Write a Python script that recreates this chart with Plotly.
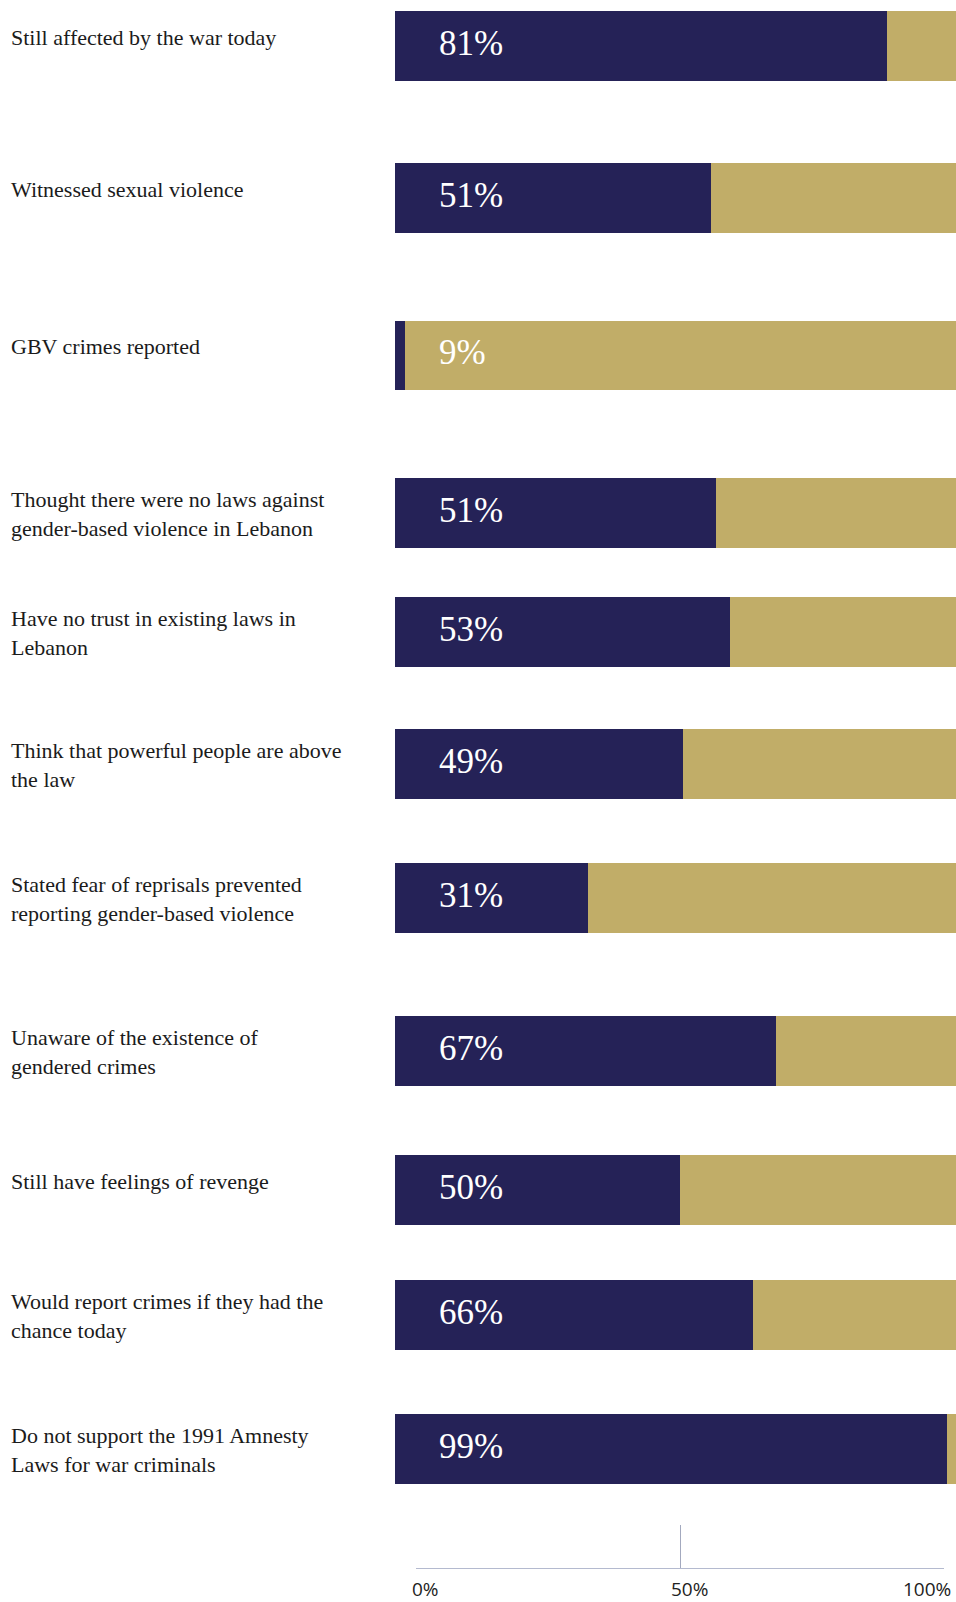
import plotly.graph_objects as go

# ---------------- data ----------------
categories = [
    "Still affected by the war today",
    "Witnessed sexual violence",
    "GBV crimes reported",
    "Thought there were no laws against<br>gender-based violence in Lebanon",
    "Have no trust in existing laws in<br>Lebanon",
    "Think that powerful people are above<br>the law",
    "Stated fear of reprisals prevented<br>reporting gender-based violence",
    "Unaware of the existence of<br>gendered crimes",
    "Still have feelings of revenge",
    "Would report crimes if they had the<br>chance today",
    "Do not support the 1991 Amnesty<br>Laws for war criminals",
]
pct_labels = ["81%", "51%", "9%", "51%", "53%", "49%", "31%", "67%", "50%", "66%", "99%"]
# navy share of each bar as drawn in the picture
navy_share = [87.7, 56.3, 1.7, 57.2, 59.7, 51.4, 34.4, 68.0, 50.8, 63.8, 98.4]
gold_share = [100 - v for v in navy_share]
axis_ticks = [0, 50, 100]
axis_tick_labels = ["0%", "50%", "100%"]

# ---------------- layout constants (page pixels) ----------------
W, H = 956, 1602
NAVY = "#252257"
GOLD = "#C1AD68"
SERIF = "Liberation Serif, Times New Roman, serif"
ROW_Y = [46, 198, 355.5, 513, 632, 764, 898, 1051, 1190, 1315, 1449]  # row centres
BAR_H = 69.5
BAR_LEFT_PX, BAR_RIGHT_PX = 395, 956
PX_PER_UNIT = (BAR_RIGHT_PX - BAR_LEFT_PX) / 100.0
X_MIN = -BAR_LEFT_PX / PX_PER_UNIT
X_MAX = (W - BAR_LEFT_PX) / PX_PER_UNIT
LABEL_X = (11 - BAR_LEFT_PX) / PX_PER_UNIT
PCT_X = (439 - BAR_LEFT_PX) / PX_PER_UNIT
AXIS_Y_PX = 1568
AXIS_LEFT_PX, AXIS_RIGHT_PX = 416, 944
AXIS_LABEL_Y = 1589

label_y = [y + 3 if "<br>" in c else y - 7 for y, c in zip(ROW_Y, categories)]

fig = go.Figure()
fig.add_trace(go.Bar(
    y=ROW_Y, x=navy_share, orientation="h", width=BAR_H,
    marker=dict(color=NAVY, line=dict(width=0)), hoverinfo="skip", showlegend=False,
))
fig.add_trace(go.Bar(
    y=ROW_Y, x=gold_share, orientation="h", width=BAR_H,
    marker=dict(color=GOLD, line=dict(width=0)), hoverinfo="skip", showlegend=False,
))
# category labels on the left
fig.add_trace(go.Scatter(
    x=[LABEL_X] * len(categories), y=label_y, mode="text", text=categories,
    textposition="middle right", cliponaxis=False,
    textfont=dict(family=SERIF, size=22, color="#1b1b1b"),
    hoverinfo="skip", showlegend=False,
))
# percentage labels inside bars
fig.add_trace(go.Scatter(
    x=[PCT_X] * len(pct_labels), y=ROW_Y, mode="text", text=pct_labels,
    textposition="middle right", cliponaxis=False,
    textfont=dict(family=SERIF, size=35, color="white"),
    hoverinfo="skip", showlegend=False,
))
# dummy trace for the bottom scale axis
fig.add_trace(go.Scatter(
    x=[axis_ticks[0], axis_ticks[-1]], y=[None, None], xaxis="x2", yaxis="y",
    mode="markers", marker=dict(opacity=0), hoverinfo="skip", showlegend=False,
))

for i, (v, t) in enumerate(zip(axis_ticks, axis_tick_labels)):
    last = i == len(axis_ticks) - 1
    fig.add_annotation(
        x=v, xref="x2", y=AXIS_LABEL_Y, yref="y", text=t, showarrow=False,
        xanchor="right" if last else "center", yanchor="middle",
        xshift=9, font=dict(family="Open Sans, sans-serif", size=19, color="#222222"),
    )

fig.update_layout(
    width=W, height=H, margin=dict(l=0, r=0, t=0, b=0),
    paper_bgcolor="white", plot_bgcolor="rgba(0,0,0,0)",
    barmode="stack", bargap=0,
    xaxis=dict(range=[X_MIN, X_MAX], domain=[0, 1], showgrid=False, zeroline=False,
               showticklabels=False, showline=False, fixedrange=True),
    yaxis=dict(range=[H, 0], domain=[0, 1], showgrid=False, zeroline=False,
               showticklabels=False, showline=False, fixedrange=True),
    xaxis2=dict(range=[axis_ticks[0], axis_ticks[-1]],
                domain=[AXIS_LEFT_PX / W, AXIS_RIGHT_PX / W],
                anchor="free", position=1 - AXIS_Y_PX / H,
                showline=True, linecolor="#b4bacf", linewidth=1,
                showgrid=False, zeroline=False, showticklabels=False,
                tickmode="array", tickvals=[axis_ticks[1]], ticks="inside",
                ticklen=43, tickcolor="#a3a9bf", tickwidth=1,
                minor=dict(tickvals=[axis_ticks[0], axis_ticks[-1]], ticks="inside",
                           ticklen=25, tickcolor="#eceef4", tickwidth=1),
                fixedrange=True),
)

fig.write_html(
    "out.html",
    config={"displayModeBar": False, "staticPlot": True},
    post_script=(
        "document.body.style.margin='0';"
        "document.body.style.overflow='hidden';"
        "document.documentElement.style.overflow='hidden';"
    ),
)
